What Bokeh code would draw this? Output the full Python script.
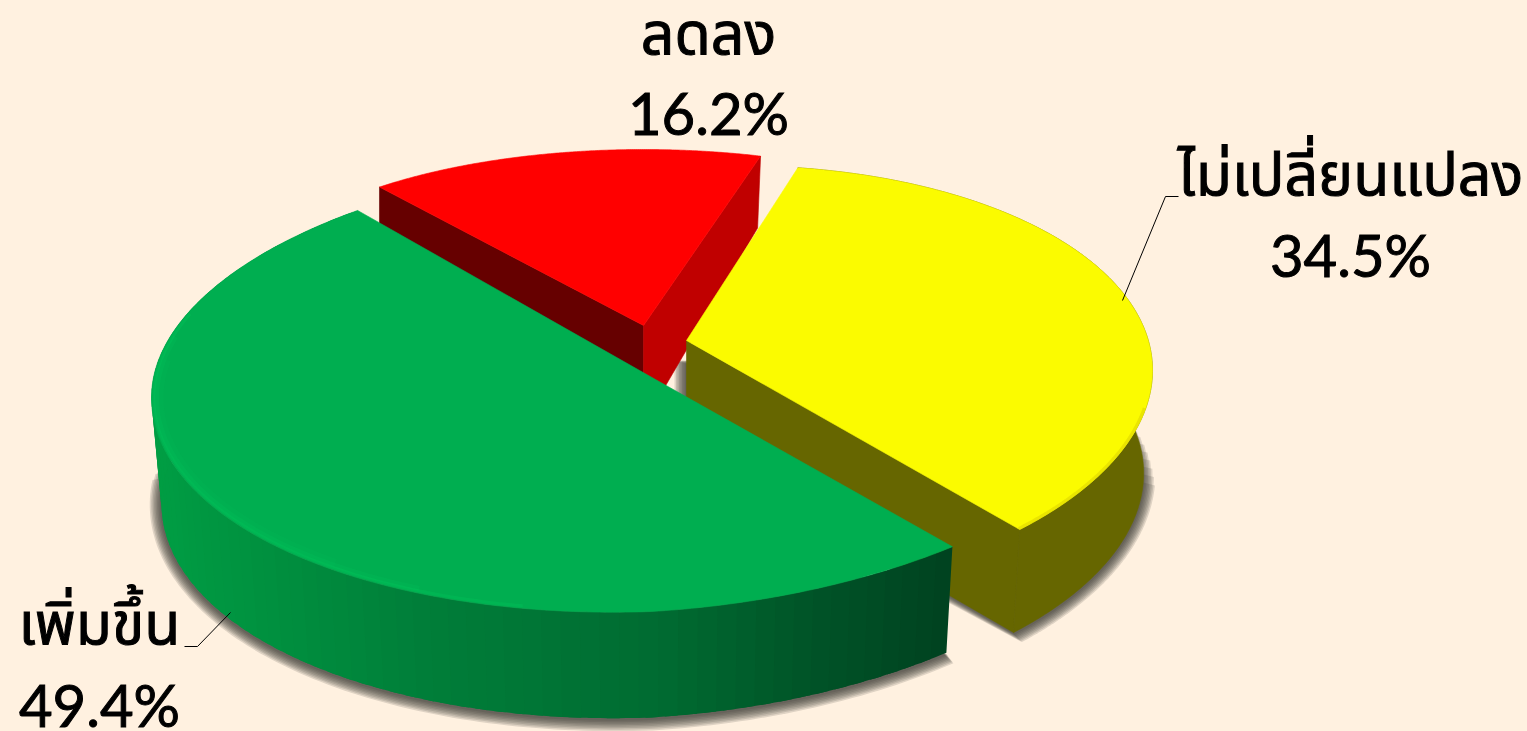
import numpy as np
from bokeh.plotting import figure
from bokeh.models import Range1d
from bokeh.core.properties import value
from bokeh.embed import file_html
from bokeh.resources import INLINE

categories = ["เพิ่มขึ้น", "ลดลง", "ไม่เปลี่ยนแปลง"]
values = [49.4, 16.2, 34.5]
labels = ["49.4%", "16.2%", "34.5%"]

BG = "#fff1e0"
THAI = "Noto Sans Thai, Noto Sans, sans-serif"
LATIN = "Lato"

# screen geometry of each tilted slice: ellipse centre, radii (front b, back bb), skew (right k, left kl),
# start angle, angular stretch, apex, wall height, wall shrink
GEOM = {
    "g": dict(cx=651, cy=379, a=500, b=232, bb=222, k=0.06, kl=0.036, t0=53.0, sp=1.0178,
              ax=655, ay=379, h=106, s=0.98),
    "r": dict(cx=643, cy=300, a=400, b=151, bb=151, k=0.0, kl=0.0, t0=228.7, sp=1.0,
              ax=643, ay=325, h=98, s=0.99),
    "y": dict(cx=710, cy=383, a=442, b=217.4, bb=217.4, k=0.03, kl=0.03, t0=281.4, sp=1.0,
              ax=686, ay=340, h=103, s=0.98),
}

def rim(g, t, d=0.0):
    r = np.radians(t)
    c, sn = np.cos(r), np.sin(r)
    x = g["cx"] + (g["a"] + d) * c
    yb = np.where(sn >= 0, g["b"], g["bb"]) + d
    yk = np.where(c >= 0, g["k"], g["kl"])
    return x, g["cy"] + yb * sn - yk * g["a"] * c

def low(g, t, d=0.0):
    x, y = rim(g, t, d)
    return g["cx"] + (x - g["cx"]) * g["s"], y + g["h"]

def angles(g, v, n=200):
    return np.linspace(g["t0"], g["t0"] + 3.6 * v * g["sp"], n)

p = figure(width=1527, height=731, x_range=Range1d(0, 1527), y_range=Range1d(731, 0),
           output_backend="svg", toolbar_location=None, background_fill_color=BG,
           border_fill_color=BG, min_border=0, outline_line_color=None)
p.axis.visible = False
p.grid.visible = False

def poly(xs, ys, c, alpha=1.0, lw=0.6):
    p.patch(list(xs), list(ys), fill_color=c, fill_alpha=alpha, line_color=c if alpha == 1 else None,
            line_width=lw)

G, R, Y = GEOM["g"], GEOM["r"], GEOM["y"]
SH = "#3a3632"
DS = [12, 10.5, 9, 7.5, 6, 4.5, 3, 1.5]

# soft shadows
for d in DS:
    t = np.linspace(G["t0"], 198 - d, 120)
    x, y = low(G, t, d)
    poly(np.r_[x, G["cx"]], np.r_[y + 1, G["cy"]], SH, 0.16)

for d in DS:
    t = np.linspace(346 + 1.4 * d, Y["t0"] + 3.6 * values[2], 120)
    x, y = low(Y, t, d)
    poly(np.r_[x, Y["ax"] - d, Y["ax"] - d], np.r_[y + 1, Y["ay"] + Y["h"] + d, Y["ay"] + 20], SH, 0.16)

# red: two cut faces and top
tR = angles(R, values[1])
xt, yt = rim(R, tR)
poly([R["ax"], xt[0], xt[0], R["ax"]], [R["ay"], yt[0], yt[0] + R["h"], R["ay"] + R["h"]], "#660000")
poly([R["ax"], xt[-1], xt[-1] - 3, R["ax"]], [R["ay"], yt[-1], yt[-1] + 72, R["ay"] + R["h"]], "#c00000")
poly(np.r_[R["ax"], xt], np.r_[R["ay"], yt], "#ff0000")

# yellow: cut face, wall, top
tY = angles(Y, values[2])
xt, yt = rim(Y, tY)
xb, yb = low(Y, tY)
poly([Y["ax"], xt[-1], xb[-1], Y["ax"]], [Y["ay"], yt[-1], yb[-1], Y["ay"] + Y["h"]], "#666600")
poly(np.r_[xt, xb[::-1]], np.r_[yt, yb[::-1]], "#666600")
poly(np.r_[Y["ax"], xt], np.r_[Y["ay"], yt], "#fbfb00")
tf = np.linspace(370, Y["t0"] + 3.6 * values[2], 80)
xf, yf = rim(Y, tf, -1.5)
p.line(xf, yf, line_color="#e2dc00", line_width=3, line_alpha=0.7)

# green: gradient wall (strips overlap so no seams show) and top
tG = angles(G, values[0], 241)
xt, yt = rim(G, tG)
xb, yb = low(G, tG)
stops_x = [150, 400, 650, 800, 950]
stops_g = [158, 128, 108, 85, 66]
stops_b = [68, 58, 50, 40, 32]
step = 3
for i in range(0, len(tG) - 1, step):
    j = min(i + step + 2, len(tG) - 1)
    m = (xt[i] + xt[j]) / 2
    c = "#%02x%02x%02x" % (0, int(np.interp(m, stops_x, stops_g)), int(np.interp(m, stops_x, stops_b)))
    p.patch(list(np.r_[xt[i:j + 1], xb[i:j + 1][::-1]]), list(np.r_[yt[i:j + 1], yb[i:j + 1][::-1]]),
            fill_color=c, line_color=None)
poly(np.r_[G["ax"], xt], np.r_[G["ay"], yt], "#00ae50")
for inset, w, al, t1, t2 in [(8, 8, 0.08, 130, 190), (5, 5, 0.14, 118, 196), (2.5, 3, 0.22, 105, 202)]:
    tf = np.linspace(t1, t2, 100)
    xf, yf = rim(G, tf, -inset)
    p.line(xf, yf, line_color="#00d060", line_width=w, line_alpha=al)

# leader lines, anchored on the rims
p.line([1122, 1165, 1178], [300, 196, 196], line_color="#000000", line_width=1)
p.line([230, 197, 184], [612, 646, 646], line_color="#000000", line_width=1)

# labels
tx = [99, 708, 1350]
ty_name = [625, 35, 176]
ty_val = [704, 112, 254]
for i in range(3):
    p.text([tx[i]], [ty_name[i]], text=[categories[i]], text_align="center", text_baseline="alphabetic",
           text_font=value(THAI), text_font_size="59px", text_color="#000000",
           text_outline_color="#000000")
    p.text([tx[i]], [ty_val[i]], text=[labels[i]], text_align="center", text_baseline="alphabetic",
           text_font=value(LATIN), text_font_size="58px", text_color="#000000",
           text_outline_color="#000000")

html = file_html(p, INLINE).replace("</head>", "<style>html,body{background:%s}</style></head>" % BG)
open("out.html", "w").write(html)
